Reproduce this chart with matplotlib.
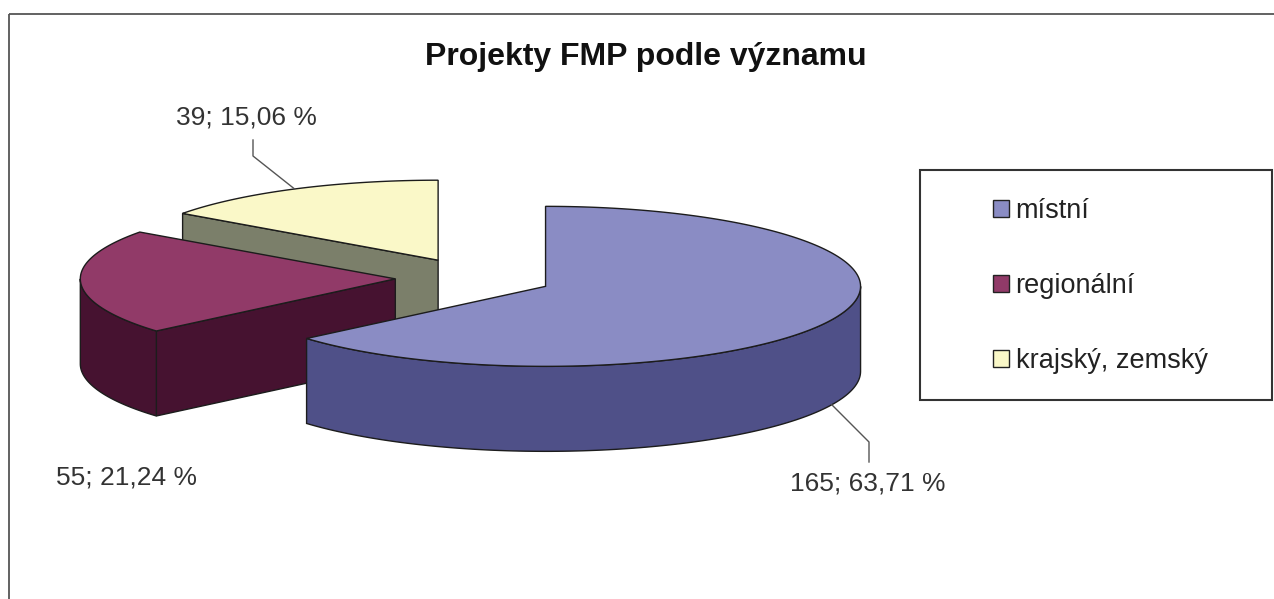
import numpy as np
import matplotlib
matplotlib.use("Agg")
import matplotlib.pyplot as plt
from matplotlib.patches import Polygon, Rectangle, Patch

plt.rcParams['font.family'] = ['Liberation Sans', 'DejaVu Sans']

# data
categories = ['místní', 'regionální', 'krajský, zemský']
values = [165, 55, 39]
top_colors = ['#8A8CC4', '#913A68', '#FAF8C8']
side_colors = ['#4F5088', '#461230', '#7B7F6A']

title = 'Projekty FMP podle významu'

# 3d pie geometry (pixel space)
CX, CY = 474, 278
RX, RY = 315, 80
DEPTH = 85
EXPLODE = 0.25
EDGE = '#1c1c1c'


def rim(cx, cy, th, dz=0):
    # th in degrees, clockwise from 12 o'clock
    t = np.radians(th)
    return np.column_stack([cx + RX * np.sin(t), cy - RY * np.cos(t) + dz])


fig = plt.figure(figsize=(12.74, 5.99), dpi=100)
ax = fig.add_axes([0, 0, 1, 1])
ax.set_xlim(0, 1274)
ax.set_ylim(599, 0)
ax.axis('off')

# chart frame
ax.add_patch(Rectangle((9, 14), 1300, 700, fill=False, edgecolor='#555555', lw=1.3))

total = sum(values)
starts = np.cumsum([0] + values[:-1]) / total * 360
ends = np.cumsum(values) / total * 360

slices = []
for i, v in enumerate(values):
    a, b = starts[i], ends[i]
    m = (a + b) / 2
    cx = CX + EXPLODE * RX * np.sin(np.radians(m))
    cy = CY - EXPLODE * RY * np.cos(np.radians(m))
    slices.append((cy, i, a, b, m, cx))

# back to front
for cy, i, a, b, m, cx in sorted(slices):
    # visible radial face at start edge
    if np.cos(np.radians(a - 90)) < -1e-6:
        p = rim(cx, cy, a)[0]
        quad = [(cx, cy), tuple(p), (p[0], p[1] + DEPTH), (cx, cy + DEPTH)]
        ax.add_patch(Polygon(quad, closed=True, fc=side_colors[i], ec=EDGE, lw=1.0))
    # visible radial face at end edge
    if np.cos(np.radians(b + 90)) < -1e-6:
        p = rim(cx, cy, b)[0]
        quad = [(cx, cy), tuple(p), (p[0], p[1] + DEPTH), (cx, cy + DEPTH)]
        ax.add_patch(Polygon(quad, closed=True, fc=side_colors[i], ec=EDGE, lw=1.0))
    # outer side, front half only
    lo, hi = max(a, 90), min(b, 270)
    if hi > lo:
        th = np.linspace(lo, hi, 120)
        topc = rim(cx, cy, th)
        botc = rim(cx, cy, th, DEPTH)
        ax.add_patch(Polygon(np.vstack([topc, botc[::-1]]), closed=True,
                             fc=side_colors[i], ec=EDGE, lw=1.0))
    # top face
    th = np.linspace(a, b, 200)
    face = np.vstack([[cx, cy], rim(cx, cy, th)])
    ax.add_patch(Polygon(face, closed=True, fc=top_colors[i], ec=EDGE, lw=1.0))

# data labels
lab = [f"{v}; {v / total * 100:.2f} %".replace('.', ',') for v in values]
geo = {i: (a, b, m, cx, cy) for cy, i, a, b, m, cx in slices}

# místní - leader from bottom of side
a, b, m, cx, cy = geo[0]
p = rim(cx, cy, m, DEPTH)[0]
ax.plot([p[0], 869, 869], [p[1], 442, 462], color='#555555', lw=1.0)
ax.text(868, 483, lab[0], ha='center', va='center', fontsize=19, color='#333333')

# regionální
ax.text(127, 478, lab[1], ha='center', va='center', fontsize=19, color='#333333')

# krajský - leader from top rim
a, b, m, cx, cy = geo[2]
p = rim(cx, cy, m)[0]
ax.plot([253, 253, p[0]], [140, 156, p[1]], color='#555555', lw=1.0)
ax.text(246, 117, lab[2], ha='center', va='center', fontsize=19, color='#333333')

# title
ax.text(646, 57, title, ha='center', va='center', fontsize=23, fontweight='bold', color='#111111')

# legend
ax.add_patch(Rectangle((920, 170), 352, 230, fill=False, edgecolor='#333333', lw=1.5))
handles = [Patch(facecolor=c, edgecolor='#222222', lw=1.0) for c in top_colors]
leg = ax.legend(handles, categories, loc='center left', bbox_to_anchor=(979, 286),
                bbox_transform=ax.transData, frameon=False, fontsize=19.5,
                handlelength=0.6, handleheight=0.6, handletextpad=0.25,
                labelspacing=1.8, borderpad=0)
for t in leg.get_texts():
    t.set_color('#222222')

fig.savefig('out.png', dpi=100)
